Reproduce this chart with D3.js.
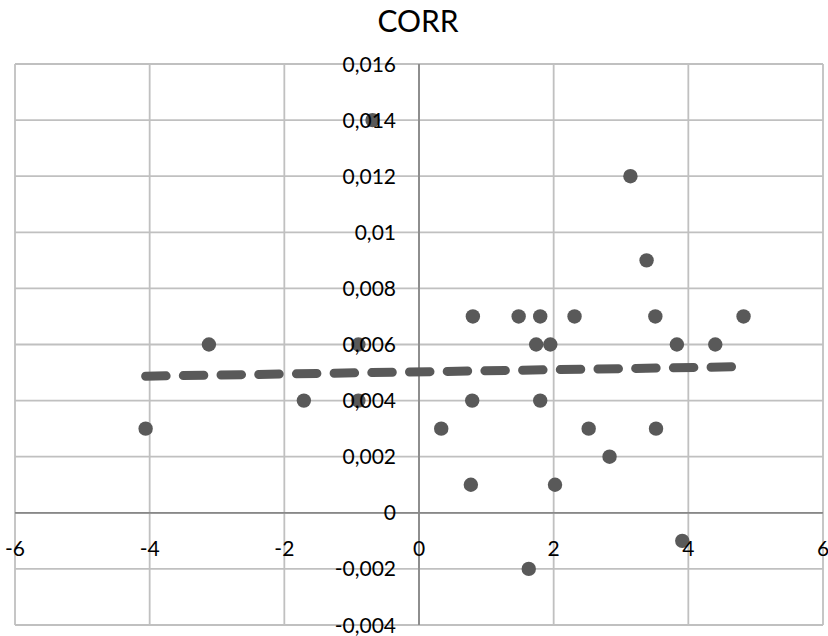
<!DOCTYPE html>
<html>
<head>
<meta charset="utf-8">
<script src="https://cdn.jsdelivr.net/npm/d3@7"></script>
<style>
  html, body { margin: 0; padding: 0; background: #fff; }
  svg { display: block; }
</style>
</head>
<body>
<svg id="chart" width="828" height="636"></svg>
<script>
const title = "CORR";
const xValues = [-4.06, -3.12, -1.71, -0.90, -0.90, -0.69, 0.33, 0.80, 0.79, 0.77, 1.48, 1.74, 1.80, 1.80, 1.95, 1.63, 2.02, 2.31, 2.52, 2.83, 3.14, 3.38, 3.51, 3.52, 3.83, 3.91, 4.40, 4.82];
const yValues = [0.003, 0.006, 0.004, 0.006, 0.004, 0.014, 0.003, 0.007, 0.004, 0.001, 0.007, 0.006, 0.007, 0.004, 0.006, -0.002, 0.001, 0.007, 0.003, 0.002, 0.012, 0.009, 0.007, 0.003, 0.006, -0.001, 0.006, 0.007];
const trendX = [-4.06, 4.82];
const trendY = [0.00487, 0.00521];
const xTicks = [-6, -4, -2, 0, 2, 4, 6];
const yTicks = [-0.004, -0.002, 0, 0.002, 0.004, 0.006, 0.008, 0.01, 0.012, 0.014, 0.016];

(function () {
const svg = d3.select("#chart");
const pLeft = 15, pRight = 823, pTop = 64, pBottom = 625;
const x = d3.scaleLinear().domain([-6, 6]).range([pLeft, pRight]);
const y = d3.scaleLinear().domain([-0.004, 0.016]).range([pBottom, pTop]);
const fmt = v => String(+v.toFixed(3)).replace(".", ",");

const gridColor = "#c0c0c0", axisColor = "#888888", markColor = "#595959";
const font = "Lato, 'Open Sans', sans-serif";

const grid = svg.append("g");
grid.selectAll("line.v").data(xTicks).join("line")
  .attr("x1", d => x(d)).attr("x2", d => x(d)).attr("y1", pTop).attr("y2", pBottom)
  .attr("stroke", gridColor).attr("stroke-width", 1.8);
grid.selectAll("line.h").data(yTicks).join("line")
  .attr("x1", pLeft).attr("x2", pRight).attr("y1", d => y(d)).attr("y2", d => y(d))
  .attr("stroke", gridColor).attr("stroke-width", 1.8);
grid.append("line").attr("x1", pLeft).attr("x2", pRight).attr("y1", y(0)).attr("y2", y(0))
  .attr("stroke", axisColor).attr("stroke-width", 1.8);
grid.append("line").attr("x1", x(0)).attr("x2", x(0)).attr("y1", pTop).attr("y2", pBottom)
  .attr("stroke", axisColor).attr("stroke-width", 1.8);

const pts = xValues.map((v, i) => [v, yValues[i]]);
svg.append("g").selectAll("circle").data(pts).join("circle")
  .attr("cx", d => x(d[0])).attr("cy", d => y(d[1])).attr("r", 7.2)
  .attr("fill", markColor);

const line = d3.line().x(d => x(d[0])).y(d => y(d[1]));
svg.append("path").datum(trendX.map((v, i) => [v, trendY[i]]))
  .attr("d", line).attr("fill", "none").attr("stroke", markColor)
  .attr("stroke-width", 9).attr("stroke-linecap", "round")
  .attr("stroke-dasharray", "20.5,17.2");

svg.append("g").selectAll("text").data(yTicks).join("text")
  .attr("x", x(0) - 23).attr("y", d => y(d)).attr("dy", "0.36em")
  .attr("text-anchor", "end").attr("font-family", font).attr("font-size", 21)
  .attr("fill", "#000").text(fmt);

svg.append("g").selectAll("text").data(xTicks).join("text")
  .attr("x", d => x(d)).attr("y", y(0) + 43)
  .attr("text-anchor", "middle").attr("font-family", font).attr("font-size", 21)
  .attr("fill", "#000").text(d => d);

svg.append("text").attr("x", 418).attr("y", 32).attr("text-anchor", "middle")
  .attr("font-family", font).attr("font-size", 30).attr("fill", "#000").text(title);
})();
</script>
</body>
</html>
